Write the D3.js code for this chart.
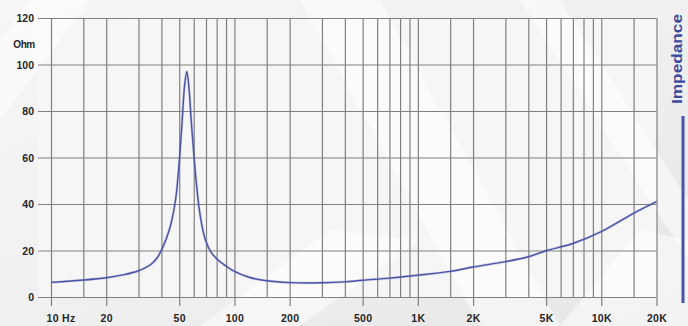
<!DOCTYPE html>
<html>
<head>
<meta charset="utf-8">
<script src="https://cdn.jsdelivr.net/npm/d3@7"></script>
<style>
  html, body { margin: 0; padding: 0; background: #ebebeb; }
  svg { display: block; }
  .lbl { font-family: "Liberation Sans Narrow", "Arial Narrow", "Liberation Sans", Arial, sans-serif; font-weight: bold; fill: #262626; }
</style>
</head>
<body>
<svg id="chart" width="688" height="326"></svg>
<script>
// ---- data ----
const freqs = [10, 15, 20, 25, 30, 35, 38, 41, 44, 46, 48, 50, 52, 53.5, 55, 56.5, 58, 60, 62, 64, 67, 70, 75, 80, 90, 100, 120, 150, 200, 300, 400, 500, 700, 1000, 1500, 2000, 3000, 4000, 5000, 7000, 10000, 15000, 20000];
const impedance = [6.3, 7.3, 8.3, 9.6, 11.3, 14.0, 17.0, 22.0, 28.5, 34.5, 43, 58, 77, 91, 97, 90, 77, 62, 49, 39, 29.5, 23.8, 19, 16.5, 13.3, 11, 8.5, 7.0, 6.2, 6.1, 6.5, 7.2, 8.1, 9.4, 11.0, 12.9, 15.2, 17.3, 19.9, 23, 28.1, 36, 41];
const gridFreqs = [10, 15, 20, 30, 40, 50, 60, 70, 80, 90, 100, 150, 200, 300, 400, 500, 600, 700, 800, 900, 1000, 1500, 2000, 3000, 4000, 5000, 6000, 7000, 8000, 9000, 10000, 15000, 20000];
const labelFreqs = [10, 20, 50, 100, 200, 500, 1000, 2000, 5000, 10000, 20000];
const labelTexts = ["10 Hz", "20", "50", "100", "200", "500", "1K", "2K", "5K", "10K", "20K"];
const yTicks = [0, 20, 40, 60, 80, 100, 120];
const yUnit = "Ohm";
const seriesName = "Impedance";

(function () {
// ---- layout ----
const svg = d3.select("#chart");
const pLeft = 51, pRight = 656.5, pTop = 18, pBottom = 297, gridLeft = 38;
const x = d3.scaleLog().domain([10, 20000]).range([pLeft, pRight]);
const y = d3.scaleLinear().domain([0, 120]).range([pBottom, pTop]);

// background texture
svg.append("rect").attr("width", 688).attr("height", 326).attr("fill", "#ebebeb");
const defs = svg.append("defs");
const g1 = defs.append("linearGradient").attr("id", "bg").attr("x1", "0").attr("y1", "0").attr("x2", "1").attr("y2", "1");
g1.append("stop").attr("offset", "0").attr("stop-color", "#f6f6f6");
g1.append("stop").attr("offset", "0.5").attr("stop-color", "#f0f0f0");
g1.append("stop").attr("offset", "1").attr("stop-color", "#e6e6e6");
svg.append("rect").attr("width", 688).attr("height", 326).attr("fill", "url(#bg)");
svg.append("rect").attr("x", gridLeft).attr("y", pTop).attr("width", pRight - gridLeft).attr("height", pBottom - pTop).attr("fill", "#f6f6f6");
const bands = [
  [[300, 0], [380, 0], [560, 326], [480, 326]],
  [[520, 0], [560, 0], [688, 200], [688, 260]],
  [[0, 40], [30, 0], [90, 0], [0, 120]],
  [[200, 326], [330, 230], [420, 240], [300, 326]],
  [[560, 326], [640, 230], [688, 240], [688, 326]]
];
svg.append("g").selectAll("polygon").data(bands).join("polygon")
  .attr("points", d => d.map(p => p.join(",")).join(" "))
  .attr("fill", "#ffffff").attr("opacity", 0.5);

// vertical grid
svg.append("g")
  .attr("transform", `translate(0,${pBottom})`)
  .call(d3.axisBottom(x).tickValues(gridFreqs).tickSize(-(pBottom - pTop)).tickFormat(""))
  .call(g => g.select(".domain").remove())
  .call(g => g.selectAll("line").attr("stroke", "#808080").attr("stroke-width", 1.2));

// horizontal grid
svg.append("g")
  .attr("transform", `translate(${gridLeft},0)`)
  .call(d3.axisLeft(y).tickValues(yTicks).tickSize(-(pRight - gridLeft)).tickFormat(""))
  .call(g => g.select(".domain").remove())
  .call(g => g.selectAll("line").attr("stroke", "#808080").attr("stroke-width", 1.2));

// major ticks below the axis with labels
const xa = svg.append("g")
  .attr("transform", `translate(0,${pBottom})`)
  .call(d3.axisBottom(x).tickValues(labelFreqs).tickSize(9).tickPadding(9)
    .tickFormat((d, i) => labelTexts[i]))
  .call(g => g.select(".domain").remove())
  .call(g => g.selectAll("line").attr("stroke", "#808080").attr("stroke-width", 1.2));
xa.selectAll("text").attr("class", "lbl").attr("font-size", 10.5).attr("dy", null).attr("y", 25)
  .attr("text-anchor", (d, i) => i === 0 ? "start" : "middle")
  .attr("x", (d, i) => i === 0 ? -5 : 0)
  .attr("letter-spacing", 0.3);

// y labels
svg.append("g").selectAll("text").data(yTicks).join("text")
  .attr("class", "lbl").attr("font-size", 10.5)
  .attr("x", 34).attr("y", d => y(d) + 4).attr("text-anchor", "end")
  .text(d => d);
svg.append("text").attr("class", "lbl").attr("font-size", 10)
  .attr("x", 24).attr("y", 48).attr("text-anchor", "middle")
  .attr("letter-spacing", -0.5)
  .text(yUnit);

// curve
const pts = freqs.map((f, i) => [f, impedance[i]]);
const line = d3.line().x(d => x(d[0])).y(d => y(d[1])).curve(d3.curveCatmullRom.alpha(0.5));
svg.append("path").datum(pts).attr("d", line)
  .attr("fill", "none").attr("stroke", "#7d84c4").attr("stroke-width", 2.6).attr("opacity", 0.35);
svg.append("path").datum(pts).attr("d", line)
  .attr("fill", "none").attr("stroke", "#4a53a6").attr("stroke-width", 1.4);

// legend
svg.append("text")
  .attr("transform", "translate(682,14) rotate(-90)")
  .attr("text-anchor", "end")
  .attr("font-family", "\"Liberation Sans Narrow\", \"Arial Narrow\", \"Liberation Sans\", Arial, sans-serif")
  .attr("font-weight", "bold").attr("font-size", 14)
  .attr("fill", "#3c4a9e")
  .attr("textLength", 90).attr("lengthAdjust", "spacingAndGlyphs")
  .text(seriesName);
svg.append("line").attr("x1", 683).attr("x2", 683).attr("y1", 116).attr("y2", 303)
  .attr("stroke", "#4a53a6").attr("stroke-width", 3);
})();
</script>
</body>
</html>
